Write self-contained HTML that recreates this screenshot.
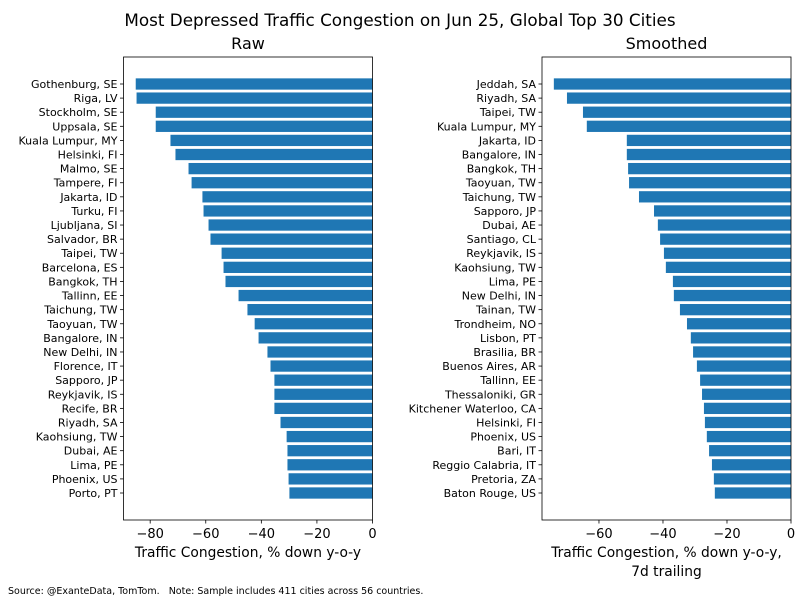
<!DOCTYPE html>
<html><head><meta charset="utf-8">
<style>
html,body{margin:0;padding:0;background:#fff;}
svg text{font-family:"DejaVu Sans","Liberation Sans",sans-serif;fill:#000;}
</style></head>
<body>
<svg id="chart" width="800" height="600" xmlns="http://www.w3.org/2000/svg">
<text x="400" y="26" font-size="16.8" text-anchor="middle">Most Depressed Traffic Congestion on Jun 25, Global Top 30 Cities</text>
<text x="8" y="594" font-size="9.5" style="white-space:pre">Source: @ExanteData, TomTom.   Note: Sample includes 411 cities across 56 countries.</text>
</svg>
<script>
const rawCities = ["Gothenburg, SE","Riga, LV","Stockholm, SE","Uppsala, SE","Kuala Lumpur, MY","Helsinki, FI","Malmo, SE","Tampere, FI","Jakarta, ID","Turku, FI","Ljubljana, SI","Salvador, BR","Taipei, TW","Barcelona, ES","Bangkok, TH","Tallinn, EE","Taichung, TW","Taoyuan, TW","Bangalore, IN","New Delhi, IN","Florence, IT","Sapporo, JP","Reykjavik, IS","Recife, BR","Riyadh, SA","Kaohsiung, TW","Dubai, AE","Lima, PE","Phoenix, US","Porto, PT"];
const rawValues = [-85.2,-84.9,-78,-78,-72.7,-70.9,-66.2,-65.1,-61.2,-60.8,-59,-58.3,-54.3,-53.6,-52.9,-48.2,-45,-42.4,-41,-37.8,-36.7,-35.3,-35.3,-35.3,-33.1,-30.9,-30.6,-30.6,-30.2,-29.9];
const smCities = ["Jeddah, SA","Riyadh, SA","Taipei, TW","Kuala Lumpur, MY","Jakarta, ID","Bangalore, IN","Bangkok, TH","Taoyuan, TW","Taichung, TW","Sapporo, JP","Dubai, AE","Santiago, CL","Reykjavik, IS","Kaohsiung, TW","Lima, PE","New Delhi, IN","Tainan, TW","Trondheim, NO","Lisbon, PT","Brasilia, BR","Buenos Aires, AR","Tallinn, EE","Thessaloniki, GR","Kitchener Waterloo, CA","Helsinki, FI","Phoenix, US","Bari, IT","Reggio Calabria, IT","Pretoria, ZA","Baton Rouge, US"];
const smValues = [-74.1,-70,-65,-63.8,-51.3,-51.3,-50.9,-50.6,-47.5,-42.8,-41.6,-40.9,-39.7,-39.1,-36.9,-36.6,-34.7,-32.5,-31.3,-30.6,-29.4,-28.4,-27.8,-27.2,-26.9,-26.3,-25.6,-24.7,-24.1,-23.8];
const rawTicks = [-80,-60,-40,-20,0];
const smTicks = [-60,-40,-20,0];

const NS="http://www.w3.org/2000/svg";
const svg=document.getElementById('chart');
function mk(tag,attrs,parent){const e=document.createElementNS(NS,tag);for(const k in attrs)e.setAttribute(k,attrs[k]);(parent||svg).appendChild(e);return e;}

function panel(name,cats,vals,ticks,x0,x1,xmin,title,xlabel){
  const top=57,bottom=520;
  const g=mk('g',{});
  
  
  const xs=v=>x1-(0-v)/(0-xmin)*(x1-x0);
  const first=84,step=(493-84)/29;
  const ys=i=>first+i*step;
  const bh=step*0.8;
  cats.forEach((c,i)=>{
    const r=mk('rect',{x:xs(vals[i]),y:ys(i)-bh/2,width:xs(0)-xs(vals[i]),height:bh,fill:'#1f77b4'},g);
    
    
    mk('line',{x1:x0-3.5,x2:x0,y1:ys(i),y2:ys(i),stroke:'#000','stroke-width':0.8},g);
    const t=mk('text',{x:x0-6,y:ys(i)+4,'font-size':11,'text-anchor':'end'},g);
    t.textContent=c;
    
    
  });
  ticks.forEach(v=>{
    mk('line',{x1:xs(v),x2:xs(v),y1:bottom,y2:bottom+3.5,stroke:'#000','stroke-width':0.8},g);
    const t=mk('text',{x:xs(v),y:bottom+18,'font-size':13,'text-anchor':'middle'},g);
    t.textContent=v<0?'\u2212'+Math.abs(v):String(v);
    
    
  });
  const f=mk('rect',{x:x0,y:top,width:x1-x0,height:bottom-top,fill:'none',stroke:'#000','stroke-width':0.8},g);
  
  
  const tt=mk('text',{x:(x0+x1)/2,y:49,'font-size':16,'text-anchor':'middle'},g);
  tt.textContent=title;
  
  
  xlabel.forEach((l,k)=>{
    const xl=mk('text',{x:(x0+x1)/2,y:557+k*19,'font-size':13.8,'text-anchor':'middle'},g);
    xl.textContent=l;
    
    
  });
}
panel('raw',rawCities,rawValues,rawTicks,123.5,372.5,-89.6,'Raw',['Traffic Congestion, % down y-o-y']);
panel('smoothed',smCities,smValues,smTicks,542,791,-77.8,'Smoothed',['Traffic Congestion, % down y-o-y,','7d trailing']);
</script>
</body></html>
